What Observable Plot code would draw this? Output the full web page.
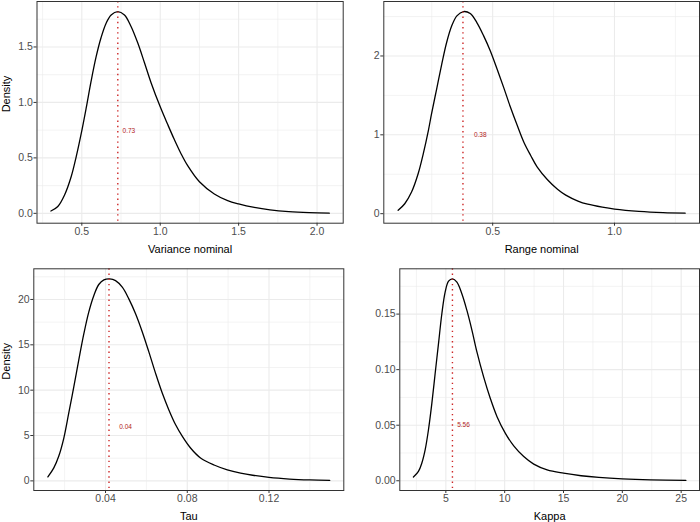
<!DOCTYPE html>
<html><head><meta charset="utf-8">
<script src="https://cdn.jsdelivr.net/npm/d3@7"></script>
<script src="https://cdn.jsdelivr.net/npm/@observablehq/plot@0.6"></script>
<style>
body{margin:0;background:#fff;}
#wrap{position:relative;width:700px;height:522px;font-family:"Liberation Sans",Arial,Helvetica,sans-serif;background:#fff;}
#wrap svg{position:absolute;background:#fff;}
</style></head><body><div id="wrap"></div>
<script>
// ---- data ----
const varianceX = [0.303,0.347,0.390,0.432,0.464,0.502,0.528,0.559,0.591,0.623,0.655,0.687,0.729,0.772,0.814,0.857,0.899,0.941,1.0,1.048,1.090,1.132,1.175,1.25,1.345,1.43,1.5,1.6,1.7,1.82,1.95,2.078];
const varianceY = [0.021,0.062,0.166,0.330,0.510,0.760,0.950,1.190,1.410,1.585,1.714,1.789,1.819,1.789,1.685,1.535,1.360,1.180,0.960,0.800,0.665,0.540,0.430,0.285,0.175,0.115,0.085,0.053,0.031,0.015,0.006,0.002];
const rangeX = [0.112,0.139,0.167,0.194,0.215,0.236,0.249,0.270,0.291,0.311,0.332,0.353,0.380,0.408,0.435,0.463,0.490,0.518,0.545,0.573,0.601,0.628,0.656,0.683,0.725,0.766,0.80,0.85,0.89,0.95,1.0,1.1,1.2,1.29];
const rangeY = [0.042,0.126,0.274,0.506,0.759,1.054,1.265,1.581,1.897,2.171,2.382,2.508,2.563,2.538,2.424,2.255,2.066,1.834,1.602,1.349,1.117,0.906,0.738,0.590,0.430,0.310,0.235,0.160,0.120,0.082,0.058,0.029,0.013,0.007];
const tauX = [0.0118,0.0147,0.0171,0.0196,0.0220,0.0245,0.0269,0.0294,0.0318,0.0343,0.0367,0.0392,0.0420,0.0449,0.0482,0.0514,0.0547,0.0580,0.0612,0.0645,0.0678,0.0710,0.0743,0.0776,0.0816,0.0865,0.0931,0.0996,0.1061,0.112,0.12,0.13,0.14,0.1497];
const tauY = [0.44,1.43,2.71,4.72,7.46,10.38,13.31,16.23,18.61,20.44,21.65,22.16,22.27,22.08,21.35,20.07,18.43,16.42,14.22,11.85,9.65,7.82,6.18,4.90,3.62,2.52,1.75,1.22,0.86,0.62,0.38,0.20,0.10,0.05];
const kappaX = [2.244,2.67,2.955,3.24,3.52,3.81,4.09,4.375,4.66,4.94,5.23,5.57,5.94,6.36,6.79,7.22,7.64,8.21,8.78,9.35,10.06,10.77,11.62,12.47,13.61,15.0,16.5,18.0,20.0,22.4,25.4];
const kappaY = [0.0033,0.0084,0.0158,0.0278,0.0457,0.0696,0.0965,0.1234,0.1503,0.1698,0.1796,0.1817,0.1787,0.1683,0.1533,0.1354,0.1160,0.0935,0.0741,0.0577,0.0427,0.0314,0.0218,0.0150,0.0098,0.0068,0.0045,0.0030,0.0017,0.0008,0.0003];

const titles = ["Variance nominal","Range nominal","Tau","Kappa"];
const yTitle = "Density";
const meanValues = [0.7295,0.378,0.0417,5.56];
const meanLabels = ["0.73","0.38","0.04","5.56"];
const labelX = [0.80,0.449,0.0498,6.5];
const labelY = [0.745,1.0,6.0,0.05];

const varianceTicksX = [0.5,1.0,1.5,2.0], varianceTicksY = [0,0.5,1.0,1.5];
const rangeTicksX = [0.5,1.0], rangeTicksY = [0,1,2];
const tauTicksX = [0.04,0.08,0.12], tauTicksY = [0,5,10,15,20];
const kappaTicksX = [5,10,15,20,25], kappaTicksY = [0,0.05,0.10,0.15];

const varianceMinorX = [0.25,0.75,1.25,1.75], varianceMinorY = [0.25,0.75,1.25,1.75];
const rangeMinorX = [0.25,0.75,1.25], rangeMinorY = [0.5,1.5,2.5];
const tauMinorX = [0.02,0.06,0.10,0.14], tauMinorY = [2.5,7.5,12.5,17.5,22.5];
const kappaMinorX = [2.5,7.5,12.5,17.5,22.5], kappaMinorY = [0.025,0.075,0.125,0.175];

// ---- layout ----
const panels = [
  {xs:varianceX, ys:varianceY, tx:varianceTicksX, ty:varianceTicksY, mx:varianceMinorX, my:varianceMinorY, fx:d3.format(".1f"), fy:d3.format(".1f"), left:0, top:0, m:{l:36.5,r:7.3,t:1,b:38.3}, ytitle:true, ydx:-30.5},
  {xs:rangeX, ys:rangeY, tx:rangeTicksX, ty:rangeTicksY, mx:rangeMinorX, my:rangeMinorY, fx:d3.format(".1f"), fy:d3.format("d"), left:350, top:0, m:{l:33.3,r:1,t:1,b:38.3}, ytitle:false},
  {xs:tauX, ys:tauY, tx:tauTicksX, ty:tauTicksY, mx:tauMinorX, my:tauMinorY, fx:d3.format(".2f"), fy:d3.format("d"), left:0, top:261, m:{l:33.3,r:6.7,t:7.3,b:32}, ytitle:true, ydx:-27.3},
  {xs:kappaX, ys:kappaY, tx:kappaTicksX, ty:kappaTicksY, mx:kappaMinorX, my:kappaMinorY, fx:d3.format("d"), fy:d3.format(".2f"), left:350, top:261, m:{l:49.3,r:1,t:7.3,b:32}, ytitle:false}
];

function expand(arr){const [a,b]=d3.extent(arr);const d=(b-a)*0.05;return [a-d,b+d];}

const wrap = document.getElementById("wrap");
panels.forEach((p,i)=>{
  const table = p.xs.map((x,j)=>({x, y:p.ys[j]}));
  const marks = [
    Plot.gridX(p.mx,{stroke:"#ebebeb",strokeOpacity:1,strokeWidth:0.6}),
    Plot.gridY(p.my,{stroke:"#ebebeb",strokeOpacity:1,strokeWidth:0.6}),
    Plot.gridX(p.tx,{stroke:"#ebebeb",strokeOpacity:1,strokeWidth:1.1}),
    Plot.gridY(p.ty,{stroke:"#ebebeb",strokeOpacity:1,strokeWidth:1.1}),
    Plot.line(table,{x:"x",y:"y",stroke:"black",strokeWidth:1.3,curve:"catmull-rom"}),
    Plot.ruleX([meanValues[i]],{stroke:"#cd2626",strokeWidth:1.4,strokeDasharray:"1.4,3.8"}),
    Plot.text([meanLabels[i]],{x:[labelX[i]],y:[labelY[i]],text:d=>d,fill:"#b22222",fontSize:6.5,textAnchor:"middle"}),
    Plot.axisX(p.tx,{tickSize:3,tickPadding:1,tickFormat:p.fx,fontSize:10.5,fill:"#4d4d4d",stroke:"#333333",label:null}),
    Plot.axisY(p.ty,{tickSize:3,tickPadding:1.2,tickFormat:p.fy,fontSize:10.5,fill:"#4d4d4d",stroke:"#333333",label:null}),
    Plot.text([titles[i]],{frameAnchor:"bottom",dy:26,fontSize:11,fill:"black",lineAnchor:"middle"}),
    Plot.frame({stroke:"#333333",strokeWidth:1})
  ];
  if (p.ytitle) marks.push(Plot.text([yTitle],{frameAnchor:"left",dx:p.ydx,rotate:-90,fontSize:11,fill:"black",lineAnchor:"middle"}));
  const svg = Plot.plot({
    width:350, height:261,
    marginLeft:p.m.l, marginRight:p.m.r, marginTop:p.m.t, marginBottom:p.m.b,
    style:{fontFamily:'"Liberation Sans",Arial,sans-serif',background:"#fff"},
    x:{domain:expand(p.xs)},
    y:{domain:expand(p.ys)},
    marks
  });
  svg.style.left = p.left+"px";
  svg.style.top = p.top+"px";
  wrap.appendChild(svg);
});
</script>
</body></html>
